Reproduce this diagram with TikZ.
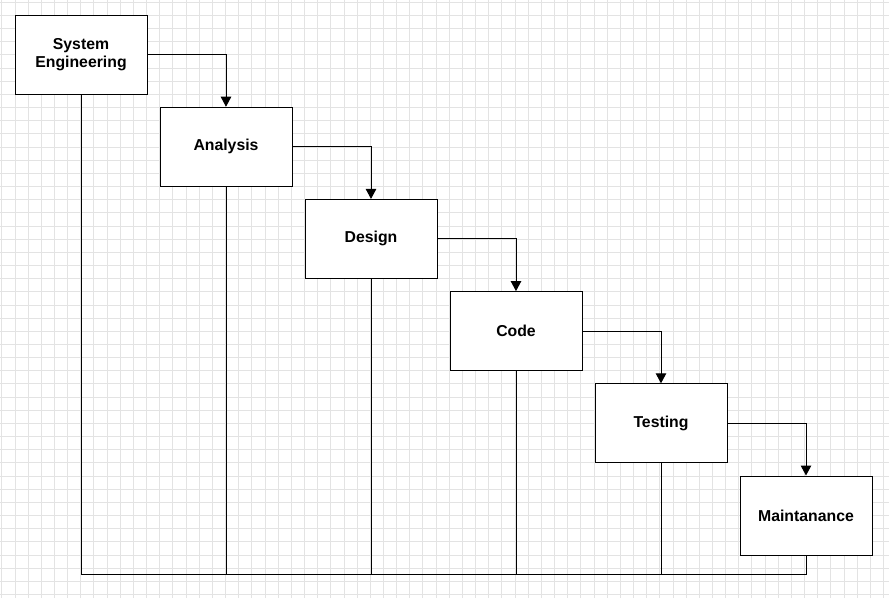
\documentclass[tikz,border=0pt]{standalone}
\usepackage{fontspec}
\setmainfont{Liberation Sans}
\usetikzlibrary{arrows.meta}
\begin{document}
\begin{tikzpicture}[x=1pt,y=-1pt,
  gridline/.style={draw=black!11,line width=1pt},
  stagebox/.style={draw=black,line width=1pt,fill=white,minimum width=132pt,minimum height=79pt,inner sep=2pt,align=center,font=\fontsize{15.8}{18}\selectfont\bfseries},
  flow/.style={draw=black,line width=1pt,-{Triangle[width=10.5pt,length=10pt]}},
  drop/.style={draw=black,line width=1pt}]
\useasboundingbox (0,0) rectangle (889,598);
\fill[white] (0,0) rectangle (889,598);
\foreach \k in {-1,...,66} \draw[gridline] ({15+13.16*\k},0) -- ({15+13.16*\k},598);
\foreach \k in {-1,...,44} \draw[gridline] (0,{15.5+13.16*\k}) -- (889,{15.5+13.16*\k});
\node[stagebox] (se) at (81,54.5) {System\\Engineering};
\node[stagebox] (an) at (226,146.7) {Analysis};
\node[stagebox] (de) at (371,238.9) {Design};
\node[stagebox] (co) at (516,331.1) {Code};
\node[stagebox] (te) at (661,423.3) {Testing};
\node[stagebox] (ma) at (806,515.5) {Maintanance};
\coordinate (bottom) at (0,574);
\draw[flow] (se.east) -| (an.north);
\draw[flow] (an.east) -| (de.north);
\draw[flow] (de.east) -| (co.north);
\draw[flow] (co.east) -| (te.north);
\draw[flow] (te.east) -| (ma.north);
\draw[drop] (se.south) -- (se.south |- bottom) -- (ma.south |- bottom) -- (ma.south);
\draw[drop] (an.south) -- (an.south |- bottom);
\draw[drop] (de.south) -- (de.south |- bottom);
\draw[drop] (co.south) -- (co.south |- bottom);
\draw[drop] (te.south) -- (te.south |- bottom);
\end{tikzpicture}
\end{document}
